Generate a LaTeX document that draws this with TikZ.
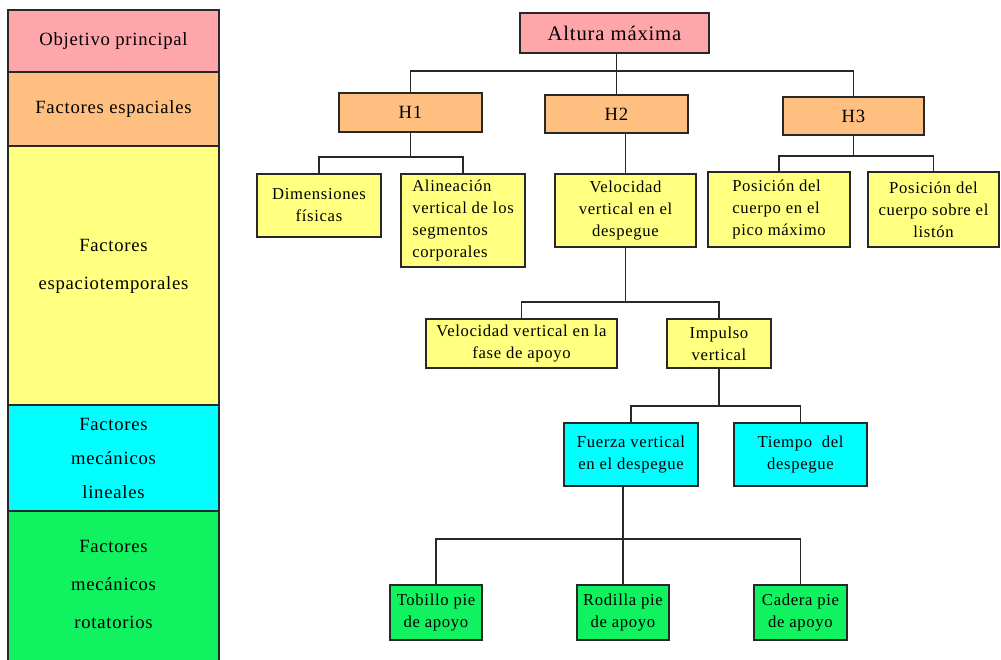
\documentclass[tikz,border=0pt]{standalone}
\usepackage{fontspec}
\setmainfont{Liberation Serif}[LetterSpace=4]
\definecolor{pinkc}{RGB}{255,166,170}
\definecolor{orangec}{RGB}{255,191,128}
\definecolor{yellowc}{RGB}{255,255,128}
\definecolor{cyanc}{RGB}{0,255,255}
\definecolor{greenc}{RGB}{16,242,96}
\definecolor{edgec}{RGB}{40,40,40}
% box from pixel corners (x1,y1)-(x2,y2)
\newcommand\pbox[7]{\node[#6, minimum width={(#4-#2)*0.75pt}, minimum height={(#5-#3)*0.75pt}] (#1) at ({(#2+#4)/2},{(#3+#5)/2}) {#7};}
\tikzset{
  frame/.style={draw=edgec, line width=1.4pt, inner sep=0pt, outer sep=0pt, align=center},
  legend/.style={frame, font=\fontsize{14}{25.5}\selectfont},
  treebox/.style={frame, font=\fontsize{12.5}{16.5}\selectfont},
  hbox/.style={frame, fill=orangec, font=\fontsize{14}{16}\selectfont},
  link/.style={draw=edgec, line width=1.4pt},
}
\begin{document}
\begin{tikzpicture}[x=0.75pt, y=-0.75pt]
\useasboundingbox (0,0) rectangle (1001,660);

% left legend column
\pbox{lgA}{8}{10}{219}{72}{legend, fill=pinkc}{Objetivo principal}
\pbox{lgB}{8}{72}{219}{146}{legend, fill=orangec}{Factores espaciales}
\pbox{lgC}{8}{146}{219}{405}{legend, fill=yellowc}{}
\node[font=\fontsize{14}{28.5}\selectfont, align=center] (lgCt) at (113.5,266) {Factores\\espaciotemporales};
\pbox{lgD}{8}{405}{219}{511}{legend, fill=cyanc}{Factores\\mecánicos\\lineales}
\pbox{lgE}{8}{511}{219}{663}{legend, fill=greenc}{}
\node[font=\fontsize{14}{28.5}\selectfont, align=center] (lgEt) at (113.5,584) {Factores\\mecánicos\\rotatorios};

% tree nodes
\pbox{alt}{520}{13}{709}{53}{frame, fill=pinkc, font=\fontsize{15.5}{18}\selectfont}{Altura máxima}
\pbox{h1}{339}{93}{482}{132}{hbox}{H1}
\pbox{h2}{545}{95}{688}{133}{hbox}{H2}
\pbox{h3}{783}{97}{924}{135}{hbox}{H3}

\pbox{dim}{257}{174}{381}{237}{treebox, fill=yellowc}{Dimensiones\\físicas}
\pbox{ali}{401}{174}{525}{267}{treebox, fill=yellowc, align=left}{Alineación\\vertical de los\\segmentos\\corporales}
\pbox{vvd}{555}{174}{696}{247}{treebox, fill=yellowc}{Velocidad\\vertical en el\\despegue}
\pbox{ppm}{708}{172}{850}{247}{treebox, fill=yellowc, align=left}{Posición del\\cuerpo en el\\pico máximo}
\pbox{psl}{868}{172}{999}{247}{treebox, fill=yellowc}{Posición del\\cuerpo sobre el\\listón}

\pbox{vfa}{426}{319}{617}{368}{treebox, fill=yellowc}{Velocidad vertical en la\\fase de apoyo}
\pbox{imp}{667}{319}{771}{368}{treebox, fill=yellowc}{Impulso\\vertical}

\pbox{fvd}{564}{423}{698}{486}{treebox, fill=cyanc}{Fuerza vertical\\en el despegue}
\pbox{tdd}{734}{423}{867}{486}{treebox, fill=cyanc}{Tiempo\ \ del\\despegue}

\pbox{tob}{390}{585}{482}{640}{treebox, fill=greenc}{Tobillo pie\\de apoyo}
\pbox{rod}{577}{585}{669}{640}{treebox, fill=greenc}{Rodilla pie\\de apoyo}
\pbox{cad}{754}{585}{847}{640}{treebox, fill=greenc}{Cadera pie\\de apoyo}

% connectors
\draw[link] (h2.north) -- (h2.north |- alt.south);
\draw[link] (h1.north) |- (620,71) -| (h3.north);

\draw[link] (h1.south) -- ++(0,25) coordinate (b1);
\draw[link] (dim.north) |- (b1) -| (ali.north);
\draw[link] (vvd.north) -- (vvd.north |- h2.south);
\draw[link] (h3.south) -- ++(0,21) coordinate (b3);
\draw[link] (ppm.north) |- (b3) -| (psl.north);

\draw[link] (vvd.south) -- ++(0,55) coordinate (b4);
\draw[link] (vfa.north) |- (b4) -| (imp.north);

\draw[link] (imp.south) -- ++(0,38) coordinate (b5);
\draw[link] (fvd.north) |- (b5) -| (tdd.north);

\draw[link] (rod.north) -- (rod.north |- fvd.south);
\draw[link] (tob.north) |- (623,539) -| (cad.north);
\end{tikzpicture}
\end{document}
